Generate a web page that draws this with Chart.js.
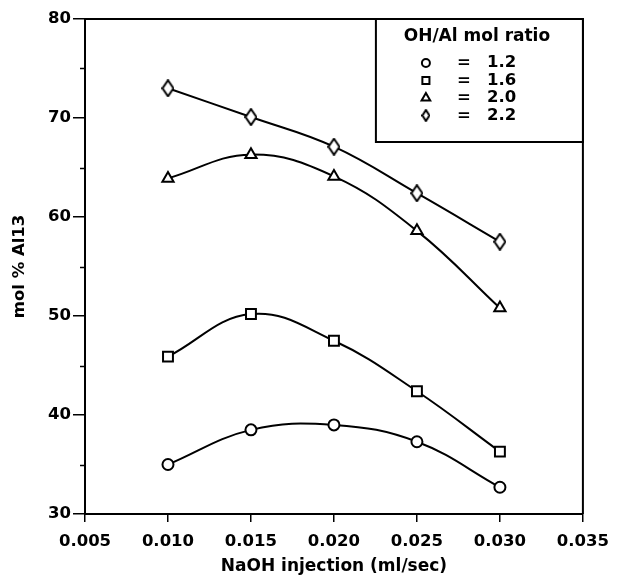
<!DOCTYPE html>
<html>
<head>
<meta charset="utf-8">
<script src="https://cdn.jsdelivr.net/npm/chart.js@4/dist/chart.umd.min.js"></script>
<style>
  html, body { margin: 0; padding: 0; background: #fff; }
  #wrap { width: 619px; height: 577px; }
</style>
</head>
<body>
<div id="wrap"><canvas id="chart"></canvas></div>
<script>
// NaOH injection rate (ml/sec)
const injection = [0.010, 0.015, 0.020, 0.025, 0.030];

// mol % Al13 for each OH/Al ratio
const ratio12 = [35.0, 38.5, 39.0, 37.3, 32.7];
const ratio16 = [45.9, 50.2, 47.5, 42.4, 36.3];
const ratio20 = [63.9, 66.3, 64.1, 58.6, 50.8];
const ratio22 = [73.0, 70.1, 67.1, 62.4, 57.5];

const ratioLabels = ["1.2", "1.6", "2.0", "2.2"];

const xTicks = [0.005, 0.010, 0.015, 0.020, 0.025, 0.030, 0.035];
const yTicks = [30, 40, 50, 60, 70, 80];
const yMinorTicks = [35, 45, 55, 65, 75];

const FONT = "'DejaVu Sans', sans-serif";

// tall open diamond used as a point marker
function makeDiamond(w, h) {
    const c = document.createElement("canvas");
    c.width = w;
    c.height = h;
    const g = c.getContext("2d");
    g.beginPath();
    g.moveTo(w / 2, 1);
    g.lineTo(w - 1, h / 2);
    g.lineTo(w / 2, h - 1);
    g.lineTo(1, h / 2);
    g.closePath();
    g.fillStyle = "#fff";
    g.fill();
    g.lineWidth = 2;
    g.strokeStyle = "#000";
    g.stroke();
    return c;
}
const diamond = makeDiamond(13, 18);
const diamondSmall = makeDiamond(9, 13);

function series(label, data, style, radius) {
    return {
        label: label,
        data: injection.map((x, i) => ({ x: x, y: data[i] })),
        borderColor: "#000",
        borderWidth: 2,
        tension: 0.4,
        pointStyle: style,
        pointRadius: radius,
        pointHoverRadius: radius,
        pointBorderWidth: 2,
        pointBorderColor: "#000",
        pointBackgroundColor: "#fff",
    };
}

// frame on top/right, minor y ticks and the ratio key box
const decorations = {
    id: "decorations",
    afterDraw(chart) {
        const { ctx, chartArea: a, scales } = chart;
        ctx.save();
        ctx.strokeStyle = "#000";
        ctx.lineWidth = 2;
        ctx.beginPath();
        ctx.moveTo(a.left, a.top);
        ctx.lineTo(a.right, a.top);
        ctx.lineTo(a.right, a.bottom);
        ctx.stroke();

        ctx.lineWidth = 1.5;
        yMinorTicks.forEach((v) => {
            const y = Math.round(scales.y.getPixelForValue(v)) + 0.5;
            ctx.beginPath();
            ctx.moveTo(a.left - 5, y);
            ctx.lineTo(a.left, y);
            ctx.stroke();
        });

        // key box
        const bx = a.right - 207, by = a.top, bw = 207, bh = 123;
        ctx.fillStyle = "#fff";
        ctx.fillRect(bx, by, bw, bh);
        ctx.lineWidth = 2;
        ctx.strokeRect(bx, by, bw, bh);

        ctx.fillStyle = "#000";
        ctx.font = "bold 17px " + FONT;
        ctx.textAlign = "center";
        ctx.textBaseline = "middle";
        ctx.fillText("OH/Al mol ratio", bx + 101, by + 18);

        const styles = ["circle", "rect", "triangle", diamondSmall];
        const radii = [4, 5, 5, 0];
        ctx.font = "bold 16.5px " + FONT;
        ratioLabels.forEach((lab, i) => {
            const y = by + 44 + i * 17.5;
            ctx.lineWidth = 2;
            ctx.strokeStyle = "#000";
            ctx.fillStyle = "#fff";
            Chart.helpers.drawPoint(ctx, { pointStyle: styles[i], radius: radii[i], rotation: 0, borderWidth: 2 }, bx + 50, y);
            ctx.fillStyle = "#000";
            ctx.textAlign = "center";
            ctx.fillText("=", bx + 88, y);
            ctx.textAlign = "left";
            ctx.fillText(lab, bx + 111, y);
        });
        ctx.restore();
    },
};

new Chart(document.getElementById("chart"), {
    type: "line",
    data: {
        datasets: [
            series("1.2", ratio12, "circle", 5.5),
            series("1.6", ratio16, "rect", 7),
            series("2.0", ratio20, "triangle", 6.5),
            series("2.2", ratio22, diamond, 7),
        ],
    },
    options: {
        responsive: true,
        maintainAspectRatio: false,
        animation: false,
        events: [],
        layout: { padding: { top: 19, right: 35, left: 0, bottom: 0 } },
        plugins: {
            legend: { display: false },
            tooltip: { enabled: false },
        },
        scales: {
            x: {
                type: "linear",
                min: 0.005,
                max: 0.035,
                afterBuildTicks: (s) => { s.ticks = xTicks.map((v) => ({ value: v })); },
                afterFit: (s) => { s.height = 63; },
                border: { color: "#000", width: 2 },
                grid: { drawOnChartArea: false, tickLength: 8, color: "#000", lineWidth: 1.5 },
                ticks: {
                    color: "#000",
                    padding: 10,
                    maxRotation: 0,
                    font: { family: FONT, size: 16.5, weight: "bold" },
                    callback: (v) => v.toFixed(3),
                },
                title: {
                    display: true,
                    text: "NaOH injection (ml/sec)",
                    color: "#000",
                    padding: { top: 0, bottom: 0 },
                    font: { family: FONT, size: 17, weight: "bold" },
                },
            },
            y: {
                min: 30,
                max: 80,
                afterBuildTicks: (s) => { s.ticks = yTicks.map((v) => ({ value: v })); },
                afterFit: (s) => { s.width = 85; },
                border: { color: "#000", width: 2 },
                grid: { drawOnChartArea: false, tickLength: 12, color: "#000", lineWidth: 1.5 },
                ticks: {
                    color: "#000",
                    padding: 2,
                    font: { family: FONT, size: 16.5, weight: "bold" },
                },
                title: {
                    display: true,
                    text: "mol % Al13",
                    color: "#000",
                    padding: { top: 10, bottom: 0 },
                    font: { family: FONT, size: 16.5, weight: "bold" },
                },
            },
        },
    },
    plugins: [decorations],
});
</script>
</body>
</html>
